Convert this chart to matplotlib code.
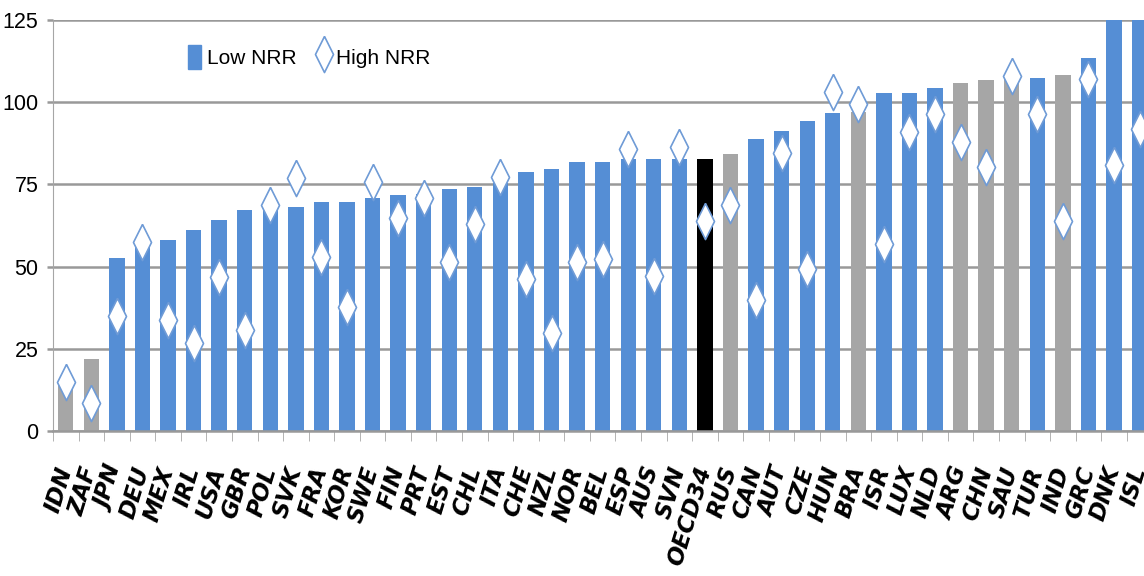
import matplotlib.pyplot as plt
import numpy as np
from matplotlib.patches import Patch
from matplotlib.lines import Line2D

# values
countries = ['IDN', 'ZAF', 'JPN', 'DEU', 'MEX', 'IRL', 'USA', 'GBR', 'POL', 'SVK',
             'FRA', 'KOR', 'SWE', 'FIN', 'PRT', 'EST', 'CHL', 'ITA', 'CHE', 'NZL',
             'NOR', 'BEL', 'ESP', 'AUS', 'SVN', 'OECD34', 'RUS', 'CAN', 'AUT', 'CZE',
             'HUN', 'BRA', 'ISR', 'LUX', 'NLD', 'ARG', 'CHN', 'SAU', 'TUR', 'IND',
             'GRC', 'DNK', 'ISL']
low_nrr = [14, 21.8, 52.7, 56, 58.1, 61.1, 64.2, 67.2, 67.5, 68.2,
           69.7, 69.7, 71, 71.8, 72, 73.5, 74.3, 75.5, 78.9, 79.6,
           81.9, 81.9, 82.7, 82.7, 82.7, 82.7, 84.2, 88.8, 91.2, 94.3,
           96.6, 97, 102.7, 102.7, 104.4, 105.9, 106.8, 107, 107.5, 108.2,
           113.5, 135, 145]
high_nrr = [15, 8.5, 35, 57.6, 33.8, 26.9, 46.9, 30.7, 68.7, 77,
            53, 37.8, 75.6, 64.7, 70.8, 51.5, 63.1, 77.4, 46.1, 29.7,
            51.5, 52.3, 85.8, 47.1, 86.5, 64, 68.7, 39.8, 84.7, 49.2,
            103.2, 99.5, 56.9, 90.8, 96.3, 88, 80.2, 108, 96.3, 63.9,
            107.2, 80.9, 91.8]
non_oecd = ['IDN', 'ZAF', 'RUS', 'BRA', 'ARG', 'CHN', 'SAU', 'IND']

blue = '#558ed5'
grey = '#a6a6a6'
edge = '#6f9bd6'
gridc = '#999999'
narrow = ['Liberation Sans', 'DejaVu Sans']

colors = []
for c in countries:
    if c == 'OECD34':
        colors.append('black')
    elif c in non_oecd:
        colors.append(grey)
    else:
        colors.append(blue)

fig = plt.figure(figsize=(11.44, 5.76), dpi=100)
ax = fig.add_axes([0.0463, 0.2517, 0.961, 0.7136])

x = np.arange(len(countries))
diamond = [(0, 1), (0.5, 0), (0, -1), (-0.5, 0), (0, 1)]

ax.bar(x, low_nrr, width=0.6, color=colors, zorder=2)
ax.plot(x, high_nrr, ls='none', marker=diamond, ms=26, mfc='white',
        mec=edge, mew=1.2, zorder=3)

ax.set_xlim(-0.5, len(countries) - 0.5)
ax.set_ylim(0, 125)
ax.set_yticks(range(0, 126, 25))
ax.yaxis.grid(True, color=gridc, lw=1.8)
ax.set_axisbelow(True)

for s in ['top', 'right']:
    ax.spines[s].set_visible(False)
ax.spines['left'].set_color(grey)
ax.spines['bottom'].set_color(gridc)
ax.spines['bottom'].set_linewidth(1.8)

# category labels at centres, small ticks at the boundaries
ax.set_xticks(x, countries, rotation=73, ha='right', va='center',
              rotation_mode='anchor', fontsize=16.5, fontweight='bold',
              fontstyle='italic')
ax.set_xticks(np.arange(-0.5, len(countries)), minor=True)
ax.tick_params(axis='x', which='major', length=0, pad=26)
ax.tick_params(axis='x', which='minor', length=7, color=grey)
ax.tick_params(axis='y', length=4.5, color=gridc, width=1.8, pad=6, labelsize=15.5)
for lbl in ax.get_yticklabels():
    lbl.set_family(narrow)

handles = [Patch(color=blue),
           Line2D([], [], ls='none', marker=diamond, ms=26, mfc='white', mec=edge, mew=1.2)]
ax.legend(handles, ['Low NRR', 'High NRR'], loc='upper left', bbox_to_anchor=(0.106, 0.985),
          ncol=2, frameon=False, handlelength=0.6, handleheight=1.4, handletextpad=0.3,
          columnspacing=1.0, prop={'family': narrow, 'size': 15})

fig.savefig('out.png', dpi=100)
